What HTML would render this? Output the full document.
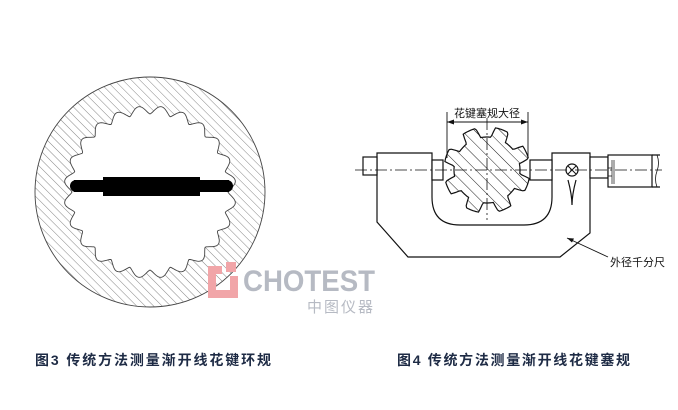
<!DOCTYPE html>
<html><head><meta charset="utf-8"><style>
html,body{margin:0;padding:0;background:#fff;width:678px;height:410px;overflow:hidden}
svg{display:block}
.cap{font-family:"Liberation Sans","Noto Sans CJK SC",sans-serif;font-weight:bold;font-size:14px;fill:#1e2b45;letter-spacing:2px}
</style></head><body>
<svg id="s" width="678" height="410" viewBox="0 0 678 410" xmlns="http://www.w3.org/2000/svg">
<defs>
<pattern id="h" patternUnits="userSpaceOnUse" width="6" height="6" patternTransform="rotate(-45)">
<line x1="0" y1="0" x2="0" y2="6" stroke="#333" stroke-width="0.6"/>
</pattern>
<pattern id="h2" patternUnits="userSpaceOnUse" width="9" height="9" patternTransform="rotate(-45)">
<line x1="0" y1="0" x2="0" y2="9" stroke="#222" stroke-width="1"/>
</pattern>
</defs>
<path id="ring" fill="url(#h)" fill-rule="evenodd" stroke="#444" stroke-width="0.9"/>
<g fill="#000">
<rect x="74" y="180" width="155" height="12"/>
<rect x="103" y="177" width="97" height="19"/>
<circle cx="76" cy="186" r="6"/>
<circle cx="227" cy="186" r="6"/>
</g>
<path d="M208 266 h14 v8 h-6 v16 h14 v-14 h8 v22 h-30 z" fill="#f1a5a8"/>
<path d="M226 262 h10 v10 h-10 z" fill="#f1a5a8"/>
<text x="243" y="291" font-family="Liberation Sans,sans-serif" font-weight="bold" font-size="30" fill="#b6bac3" textLength="132" lengthAdjust="spacingAndGlyphs">CHOTEST</text>
<text x="307" y="312" font-family="Liberation Sans,'Noto Sans CJK SC',sans-serif" font-size="15" fill="#b6bac3" letter-spacing="2">中图仪器</text>
<g stroke="#111" stroke-width="1.2" fill="none">
<path d="M432 153 H377 V222 L408 257 H560 L590 233 V153 H552 V197 Q552 225 524 225 H460 Q432 225 432 197 Z" fill="#fff"/>
<rect x="363" y="157" width="14" height="18" fill="#fff"/>
<rect x="432" y="160" width="11" height="20" fill="#fff"/>
<rect x="530" y="160" width="22" height="20" fill="#fff"/>
<rect x="590" y="157" width="18" height="21" fill="#fff"/>
<rect x="608" y="155" width="44" height="32" fill="#fff"/>
<path d="M652 155 H660 M652 187 H660"/>
<path d="M657 155 q3 8 0 16 q-3 8 0 16" stroke-width="0.8"/>
<circle cx="572" cy="170" r="6"/>
<path d="M568 166 l8 8 M576 166 l-8 8" stroke-width="1"/>
<path d="M568 180 Q572 195 572 205 Q572 195 576 180" />
<path id="gear" fill="url(#h2)" stroke-width="1.2"/>
<path d="M447 158 V112 M528 158 V112" stroke-width="0.9"/>
<path d="M447 122 H528" stroke-width="0.9"/>
<path d="M567 238 L608 257" stroke-width="0.9"/>
</g>
<path d="M447 122 l7 -2.5 v5 z M528 122 l-7 -2.5 v5 z M567 238 l7 0.5 l-2 4 z" fill="#111"/>
<line x1="355" y1="170" x2="662" y2="170" stroke="#111" stroke-width="0.8" stroke-dasharray="12 3 2 3"/>
<line x1="487" y1="118" x2="487" y2="220" stroke="#111" stroke-width="0.8" stroke-dasharray="12 3 2 3"/>
<g stroke="#111" stroke-width="0.7"><path d="M612 160 v24 M614 160 v24 M608 168 h4 M608 176 h4"/></g>
<text x="487" y="117" text-anchor="middle" font-family="Liberation Sans,'Noto Sans CJK SC',sans-serif" font-size="11" fill="#111">花键塞规大径</text>
<text x="610" y="266" font-family="Liberation Sans,'Noto Sans CJK SC',sans-serif" font-size="11" fill="#111">外径千分尺</text>
<text class="cap" x="35" y="365" textLength="238">图3 传统方法测量渐开线花键环规</text>
<text class="cap" x="397" y="365" textLength="235">图4 传统方法测量渐开线花键塞规</text>
</svg>
<script>
(function(){
 function ring(){
  var cx=150,cy=192,R=115,n=24,p=[];
  var d="M"+(cx+R)+" "+cy+" A"+R+" "+R+" 0 1 0 "+(cx-R)+" "+cy+" A"+R+" "+R+" 0 1 0 "+(cx+R)+" "+cy+" Z ";
  var N=n*20;
  for(var i=0;i<=N;i++){
   var a=i/N*2*Math.PI, t=(i%20)/20;
   var f=0.5-0.5*Math.cos(2*Math.PI*t);
   f=Math.pow(f,0.7);
   var r=78+8*f;
   p.push((i?"L":"M")+(cx+r*Math.cos(a)).toFixed(1)+" "+(cy+r*Math.sin(a)).toFixed(1));
  }
  document.getElementById("ring").setAttribute("d",d+p.join(" ")+"Z");
 }
 function gear(){
  var cx=487,cy=170,n=8,N=n*24,p=[];
  for(var i=0;i<=N;i++){
   var a=i/N*2*Math.PI+0.2, t=(i%24)/24;
   var f=t<0.4?1:t<0.5?1-(t-0.4)/0.1:t<0.9?0:(t-0.9)/0.1;
   var r=33+10*f;
   p.push((i?"L":"M")+(cx+r*Math.cos(a)).toFixed(1)+" "+(cy+r*Math.sin(a)).toFixed(1));
  }
  document.getElementById("gear").setAttribute("d",p.join(" ")+"Z");
 }
 ring();gear();
})();
</script>
</body></html>
